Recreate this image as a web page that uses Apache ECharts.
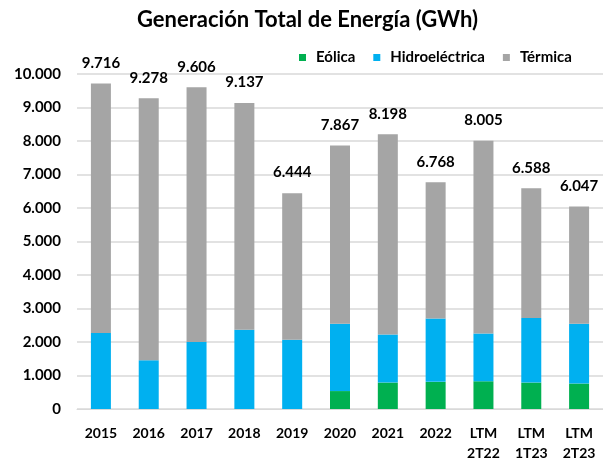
<!DOCTYPE html>
<html>
<head>
<meta charset="utf-8">
<script src="https://cdn.jsdelivr.net/npm/echarts@6/dist/echarts.min.js"></script>
<style>
  html, body { margin: 0; padding: 0; background: #fff; }
  #chart { width: 603px; height: 463px; }
</style>
</head>
<body>
<div id="chart"></div>
<script>
// categorias y valores (GWh)
const categories = ['2015', '2016', '2017', '2018', '2019', '2020', '2021', '2022', 'LTM\n2T22', 'LTM\n1T23', 'LTM\n2T23'];
const eolica = [0, 0, 0, 0, 0, 535, 789, 810, 828, 789, 760];
const hidro = [2272, 1453, 1997, 2368, 2067, 2009, 1433, 1889, 1423, 1930, 1784];
const termica = [7444, 7825, 7609, 6769, 4377, 5323, 5976, 4069, 5754, 3869, 3503];
const totals = [9716, 9278, 9606, 9137, 6444, 7867, 8198, 6768, 8005, 6588, 6047];

const FONT = 'Lato, "Open Sans", sans-serif';

function fmt(v) {
  return String(v).replace(/\B(?=(\d{3})+(?!\d))/g, '.');
}

const chart = echarts.init(document.getElementById('chart'));

chart.setOption({
  animation: false,
  textStyle: { fontFamily: FONT },
  title: {
    text: 'Generación Total de Energía (GWh)',
    left: 132,
    top: 4,
    textStyle: { fontSize: 22, fontWeight: 'bold', color: '#000', fontFamily: FONT }
  },
  legend: {
    left: 294,
    top: 45,
    icon: 'rect',
    itemWidth: 7,
    itemHeight: 7,
    itemGap: 18,
    textStyle: { fontSize: 15, fontWeight: 'bold', color: '#000', fontFamily: FONT, padding: [0, 0, 0, 5] },
    data: ['Eólica', 'Hidroeléctrica', 'Térmica']
  },
  grid: {
    left: 77,
    top: 74,
    width: 531,
    height: 342
  },
  xAxis: {
    type: 'category',
    data: categories,
    axisTick: { show: false },
    axisLine: { lineStyle: { color: '#d9d9d9', width: 1 } },
    axisLabel: {
      margin: 14,
      fontSize: 14,
      fontWeight: 'bold',
      color: '#000',
      lineHeight: 20,
      interval: 0
    }
  },
  yAxis: {
    type: 'value',
    min: 0,
    max: 10000,
    interval: 1000,
    axisLine: { show: false },
    axisTick: { show: false },
    splitLine: { lineStyle: { color: '#d9d9d9', width: 1.5 } },
    axisLabel: {
      margin: 16,
      fontSize: 15,
      fontWeight: 'bold',
      color: '#000',
      formatter: v => fmt(v)
    }
  },
  series: [
    {
      name: 'Eólica',
      type: 'bar',
      stack: 'total',
      barWidth: 20,
      data: eolica,
      itemStyle: { color: '#00b050' }
    },
    {
      name: 'Hidroeléctrica',
      type: 'bar',
      stack: 'total',
      barWidth: 20,
      data: hidro,
      itemStyle: { color: '#00b0f0' }
    },
    {
      name: 'Térmica',
      type: 'bar',
      stack: 'total',
      barWidth: 20,
      data: termica,
      itemStyle: { color: '#a5a5a5' },
      label: {
        show: true,
        position: 'top',
        distance: 13,
        fontSize: 15,
        fontWeight: 'bold',
        color: '#000',
        formatter: p => fmt(totals[p.dataIndex])
      }
    }
  ]
});
</script>
</body>
</html>
